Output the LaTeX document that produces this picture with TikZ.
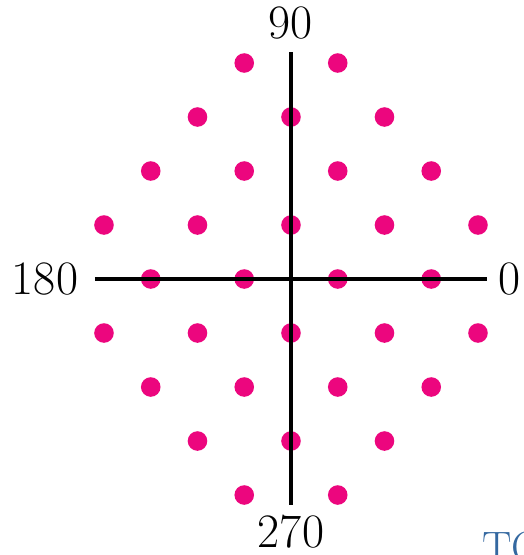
\documentclass[tikz,border=0pt]{standalone}
\usepackage{fontspec}
\usepackage{xcolor}
\usepackage{tikz}
\usetikzlibrary{positioning,calc}

\definecolor{dotpink}{RGB}{236,6,126}
\definecolor{pageblue}{RGB}{52,104,160}

\begin{document}
\begin{tikzpicture}[
    x=1pt, y=1pt,
    dot/.style={circle, fill=dotpink, inner sep=0pt, minimum size=19.6pt},
    axis/.style={line width=3.2pt, black},
    lbl/.style={inner sep=0pt, font=\fontsize{48}{50}\selectfont}
]
\useasboundingbox (-291,-276) rectangle (232,279);

% lattice of dots
\foreach \i in {-4,...,4} {
  \foreach \j in {-4,...,4} {
    \pgfmathtruncatemacro\ok{and(isodd(\i+\j), abs(\i)+abs(\j)<=5)}
    \ifnum\ok=1
      \node[dot] (d\i\j) at ({46.75*\i},{54*\j}) {};
    \fi
  }
}

% axes
\coordinate (west) at (-196,0);
\coordinate (east) at (196,0);
\coordinate (north) at (0,227);
\coordinate (south) at (0,-226);
\draw[axis] (west) -- (east);
\draw[axis] (north) -- (south);

\node[lbl] (deg90) at (0,256) {90};
\node[lbl] (deg180) at (-246,0) {180};
\node[lbl] (deg0) at (219,0) {0};
\node[lbl] (deg270) at (0,-253) {270};

% cut-off text of the next page
\node[anchor=base west, inner sep=0pt, text=pageblue, font=\fontsize{44}{46}\selectfont] (cut) at (191,-283) {TO};

\end{tikzpicture}
\end{document}
